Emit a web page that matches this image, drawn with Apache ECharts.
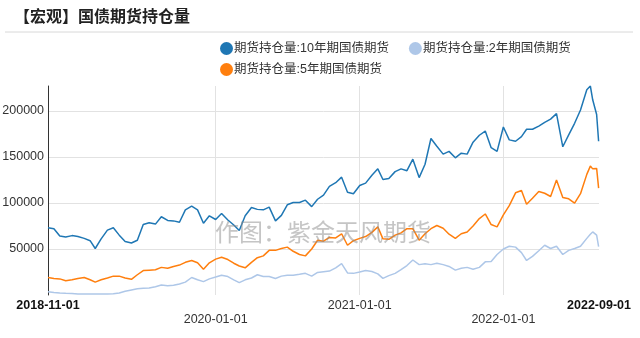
<!DOCTYPE html>
<html>
<head>
<meta charset="utf-8">
<script src="https://cdn.jsdelivr.net/npm/echarts@6/dist/echarts.min.js"></script>
<style>
  html, body { margin: 0; padding: 0; background: #fff; }
  #chart { width: 640px; height: 338px; }
</style>
</head>
<body>
<div id="chart"></div>
<script>
// Series names (legend order)
const seriesNames = ['期货持仓量:10年期国债期货', '期货持仓量:2年期国债期货', '期货持仓量:5年期国债期货'];

// Observation dates: 1st and 16th of each month from 2018-11 to 2022-07, then August 2022
const augustDates = ['2022-08-01', '2022-08-10', '2022-08-16', '2022-08-26', '2022-08-31'];
const dates = [];
for (let k = 0; k < 45; k++) {
  const y = 2018 + Math.floor((10 + k) / 12);
  const mm = String((10 + k) % 12 + 1).padStart(2, '0');
  dates.push(y + '-' + mm + '-01', y + '-' + mm + '-16');
}
dates.push(...augustDates);

// Open interest, lots
const oi10y = [
  73000, 72000, 64000, 63000, 64500, 63500, 61500, 59000, 50500, 61000,
  70500, 73000, 65000, 58000, 56500, 59500, 76500, 78500, 77000, 85000,
  81000, 80500, 79000, 92500, 96500, 92500, 78000, 86000, 82000, 88500,
  81500, 76000, 70000, 86000, 95000, 93000, 92500, 95500, 80500, 86500,
  98000, 100500, 100500, 103000, 96000, 104000, 108500, 118000, 122000, 128000,
  111500, 110000, 119000, 121500, 130000, 137000, 125500, 126500, 134000, 137000,
  135000, 147500, 127500, 142000, 170000, 161500, 153000, 156000, 149000, 154000,
  153000, 166000, 173500, 178000, 160000, 156000, 182500, 168500, 167000, 172000,
  180000, 180000, 183500, 187500, 191000, 197000, 161000, 174000, 186500, 201000,
  223000, 227000, 212000, 196000, 167000
];
const oi5y = [
  19000, 18000, 17500, 15500, 16500, 18000, 19000, 16500, 14000, 16500,
  18500, 20500, 20500, 18500, 17000, 22000, 26500, 27000, 27500, 30000,
  29000, 31000, 32500, 35500, 37500, 35000, 28000, 35000, 39000, 41000,
  38500, 34500, 31500, 29500, 35500, 40500, 42500, 48500, 48500, 50500,
  52000, 47500, 44000, 42500, 50000, 59500, 58500, 62500, 62000, 66500,
  54000, 59000, 61500, 63500, 68000, 74000, 61000, 60500, 65000, 67500,
  72000, 72000, 59500, 66500, 72000, 75500, 72500, 66000, 61500, 66500,
  68500, 75000, 83000, 88000, 76500, 74000, 87000, 97000, 111000, 113500,
  98500, 105000, 112500, 110500, 107000, 125000, 106000, 104500, 99700, 110000,
  131000, 140000, 137000, 137500, 116000
];
const oi2y = [
  3500, 2800, 2200, 1800, 1500, 1200, 1100, 1000, 1000, 1100,
  1200, 1300, 2200, 4000, 5500, 6800, 7300, 7500, 9000, 10800,
  10000, 10500, 12000, 14000, 19000, 16500, 14500, 17500, 19500, 21500,
  20000, 16500, 13500, 16500, 18500, 22000, 20000, 20000, 18000, 20500,
  21500, 21500, 22500, 23500, 20500, 24500, 25300, 26000, 29500, 34000,
  24000, 23500, 25000, 26500, 25500, 23000, 18000, 21000, 23500, 27500,
  32000, 38000, 33000, 34000, 33000, 34500, 33000, 31000, 27000, 29000,
  30000, 28000, 30000, 36000, 36500, 44000, 50000, 53000, 52000, 46000,
  37500, 42000, 48000, 54000, 50500, 53000, 44000, 48500, 50500, 53000,
  61500, 66000, 68500, 65000, 52500
];

// Axis ticks and labels
const xRange = ['2018-11-01', '2022-09-01'];
const yearStarts = ['2020-01-01', '2021-01-01', '2022-01-01'];
const lowerRowLabels = ['2020-01-01', '2022-01-01'];
const yTicks = [50000, 100000, 150000, 200000];

// Dates are placed on a linear value axis in milliseconds
function toTime(s) {
  const p = s.split('-').map(Number);
  return Date.UTC(p[0], p[1] - 1, p[2]);
}
function fmtDate(v) {
  const d = new Date(v);
  return d.getUTCFullYear() + '-' + String(d.getUTCMonth() + 1).padStart(2, '0') + '-' + String(d.getUTCDate()).padStart(2, '0');
}

const font = "'Liberation Sans', 'Noto Sans CJK SC', sans-serif";
const colors = ['#1f77b4', '#aec7e8', '#ff7f0e'];
const values = [oi10y, oi2y, oi5y];

const chart = echarts.init(document.getElementById('chart'), null, { renderer: 'canvas' });

const legendBase = {
  icon: 'circle',
  itemWidth: 13,
  itemHeight: 13,
  padding: 0,
  itemGap: 20,
  left: 220,
  textStyle: { fontSize: 12.5, color: '#333', fontFamily: font, padding: [0, 0, 0, -4] }
};

chart.setOption({
  animation: false,
  backgroundColor: '#fff',
  color: colors,
  title: {
    text: '【宏观】国债期货持仓量',
    left: 14,
    top: 8,
    padding: 0,
    textStyle: { fontFamily: "'Noto Sans CJK SC'", fontSize: 16, fontWeight: 'bold', color: '#222' }
  },
  legend: [
    Object.assign({}, legendBase, { top: 42, data: [seriesNames[0], seriesNames[1]] }),
    Object.assign({}, legendBase, { top: 63, data: [seriesNames[2]] })
  ],
  grid: { left: 48, right: 41, top: 86, bottom: 43, containLabel: false, outerBoundsMode: 'none' },
  xAxis: {
    type: 'value',
    min: toTime(xRange[0]),
    max: toTime(xRange[1]),
    scale: true,
    axisLine: { show: false },
    axisTick: { show: false, customValues: yearStarts.map(toTime) },
    splitLine: { show: true, lineStyle: { color: '#e2e2e2', width: 1 } },
    axisLabel: {
      customValues: [xRange[0], ...yearStarts, xRange[1]].map(toTime),
      margin: 4,
      fontSize: 12.5,
      lineHeight: 14,
      color: '#333',
      fontFamily: font,
      formatter: function (v) {
        const s = fmtDate(v);
        if (s === xRange[0] || s === xRange[1]) return '{b|' + s + '}';
        if (lowerRowLabels.indexOf(s) >= 0) return '\n{n|' + s + '}';
        return '{n|' + s + '}';
      },
      rich: {
        b: { fontWeight: 'bold', color: '#111', fontSize: 12.5, lineHeight: 14, fontFamily: font },
        n: { color: '#333', fontSize: 12.5, lineHeight: 14, fontFamily: font }
      }
    }
  },
  yAxis: {
    type: 'value',
    min: 0,
    max: 'dataMax',
    axisLine: { show: true, lineStyle: { color: '#333', width: 1 } },
    axisTick: { show: false, customValues: yTicks },
    splitLine: { show: true, lineStyle: { color: '#e2e2e2', width: 1 } },
    axisLabel: {
      customValues: yTicks,
      margin: 4,
      fontSize: 12.5,
      color: '#333',
      fontFamily: font,
      formatter: function (v) { return String(v); }
    }
  },
  graphic: [
    {
      type: 'line',
      shape: { x1: 5, y1: 32, x2: 633, y2: 32 },
      style: { stroke: '#d8d8d8', lineWidth: 1 },
      silent: true
    },
    {
      type: 'text',
      left: 215,
      top: 220,
      z: 100,
      silent: true,
      style: {
        text: '作图：紫金天风期货',
        font: "24px 'Noto Sans CJK SC'",
        fill: 'rgba(140,140,140,0.5)'
      }
    }
  ],
  series: seriesNames.map(function (name, k) {
    return {
      name: name,
      type: 'line',
      showSymbol: false,
      symbol: 'none',
      lineStyle: { width: 1.5, color: colors[k] },
      itemStyle: { color: colors[k] },
      emphasis: { disabled: true },
      data: dates.map(function (d, i) { return [toTime(d), values[k][i]]; })
    };
  })
});
</script>
</body>
</html>
